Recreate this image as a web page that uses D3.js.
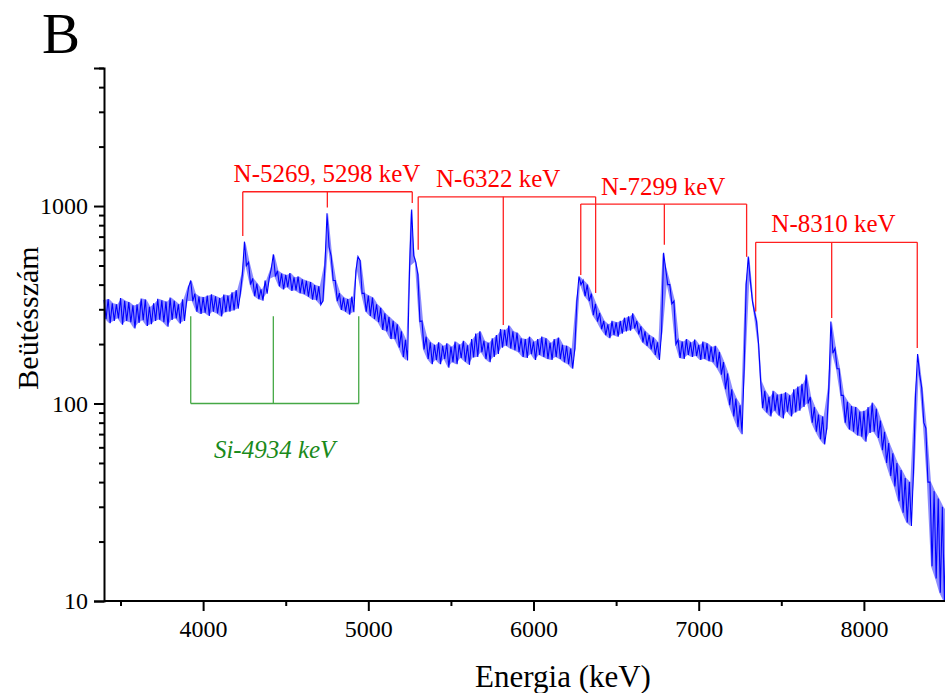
<!DOCTYPE html>
<html><head><meta charset="utf-8">
<script src="https://cdn.jsdelivr.net/npm/d3@7"></script>
<style>body{margin:0;background:#fff}svg{display:block}</style>
</head><body>
<svg id="chart" width="945" height="693"></svg>
<script>
// Spectrum: 25 keV bins starting at 3400 keV,
// two readings per bin (at bin start and bin middle) to keep the noise band.
const binStart = 3400;
const binWidth = 25;
const countsA = [
 335,338,322,318,342,331,326,314,318,340,
 336,309,322,339,333,328,344,331,318,337,
 330,420,360,348,346,352,357,349,342,356,
 352,366,375,360,660,520,430,405,378,420,
 430,570,470,455,448,458,436,440,426,418,
 412,398,392,330,920,560,420,362,344,338,
 348,470,530,362,352,344,318,305,286,274,
 262,252,232,210,500,560,450,262,218,204,
 198,204,196,202,194,206,199,208,197,212,
 226,232,208,203,214,222,238,236,248,232,
 228,214,212,218,206,212,218,214,203,212,
 216,198,196,190,190,440,420,400,360,320,
 288,262,252,262,258,262,272,276,286,262,
 246,232,222,216,204,230,480,400,330,210,
 206,212,204,211,198,206,202,194,196,182,
 162,142,118,106,98,150,555,330,260,130,
 116,108,116,111,112,114,110,118,122,126,
 140,108,96,88,86,75,260,190,150,110,
 102,97,96,91,92,96,101,94,82,72,
 63,56,50,46,42,40,45,178,120,75,
 40,36,33,30,28
];
const countsB = [
 268,255,262,270,251,262,258,240,256,264,
 247,252,262,266,258,245,265,270,254,262,
 390,330,292,284,288,278,292,286,276,290,
 292,296,302,450,500,400,350,338,332,360,
 480,440,392,378,388,372,374,362,358,348,
 336,334,316,500,620,420,330,298,292,282,
 290,555,360,292,278,268,258,236,232,212,
 212,192,172,165,960,520,260,188,168,158,
 166,158,168,152,162,158,170,163,157,171,
 172,182,168,162,172,178,192,196,190,186,
 182,172,170,178,166,176,172,168,166,172,
 168,162,158,150,330,400,350,330,280,260,
 238,222,214,222,218,226,232,234,240,224,
 204,196,188,176,166,580,400,320,200,170,
 168,176,172,174,166,168,164,162,152,140,
 118,98,86,76,70,400,420,290,200,95,
 90,86,92,87,84,91,86,90,92,96,
 100,80,72,66,62,120,180,150,110,80,
 74,72,69,68,64,71,72,67,58,50,
 43,38,32,28,25,24,110,140,80,40,
 15,13,11,10,10
];

// Annotation brackets: energies of the three legs, bar level and leg-end levels (counts)
const nitrogenLabels = ["N-5269, 5298 keV", "N-6322 keV", "N-7299 keV", "N-8310 keV"];
const nitrogenLegs = [[4240, 4752, 5266], [5302, 5817, 6376], [6286, 6792, 7290], [7345, 7805, 8323]];
const nitrogenBar = [1181, 1114, 1023, 655];
const nitrogenEnds = [[705, 984, 1035], [600, 250, 363], [448, 636, 553], [292, 271, 191]];
const nitrogenLabelAt = [[4750, 1323], [5786, 1255], [6785, 1136], [7816, 736]];

const siliconLabel = "Si-4934 keV";
const siliconLegs = [3925, 4425, 4942];
const siliconBar = 100;
const siliconEnds = [277, 277, 277];
const siliconLabelAt = [4433, 53];

const xMajorTicks = [4000, 5000, 6000, 7000, 8000];
const xMinorTicks = [3500, 4500, 5500, 6500, 7500];
const yMajorTicks = [10, 100, 1000];
const yMinorTicks = [20,30,40,50,60,70,80,90,200,300,400,500,600,700,800,900,2000,3000,4000,5000];

const svg = d3.select("#chart");
const FONT = "'Liberation Serif','Times New Roman',serif";
const x = d3.scaleLinear().domain([3400, 9000]).range([104, 1029.1]);
const y = d3.scaleLog().domain([10, 5000]).range([601, 68]);

// noise band: envelope between the two readings of each bin
const bins = countsA.map((a, i) => ({ e: binStart + i * binWidth + binWidth / 4, a, b: countsB[i] }));
svg.append("path")
  .attr("d", d3.area().x(d => x(d.e)).y0(d => y(Math.min(d.a, d.b))).y1(d => y(Math.max(d.a, d.b)))(bins))
  .attr("fill", "#0000ff").attr("fill-opacity", 0.45).attr("stroke", "none");

// data line
const pts = [];
countsA.forEach((a, i) => {
  const e = binStart + i * binWidth;
  pts.push([e, a]);
  pts.push([e + binWidth / 2, countsB[i]]);
});
svg.append("path")
  .attr("d", d3.line().x(d => x(d[0])).y(d => y(d[1]))(pts))
  .attr("fill", "none").attr("stroke", "#0000ff").attr("stroke-width", 1.1)
  .attr("stroke-linejoin", "miter");

// axes
const xAxis = svg.append("g").attr("transform", "translate(0,601)");
xAxis.call(d3.axisBottom(x).tickValues(xMajorTicks).tickSize(10).tickPadding(9).tickFormat(d3.format("d")));
const xMinor = svg.append("g").attr("transform", "translate(0,601)");
xMinor.call(d3.axisBottom(x).tickValues(xMinorTicks).tickSize(5).tickFormat(""));
const yAxis = svg.append("g").attr("transform", "translate(104,0)");
yAxis.call(d3.axisLeft(y).tickValues(yMajorTicks).tickSize(10).tickPadding(6).tickFormat(d3.format("d")));
const yMinor = svg.append("g").attr("transform", "translate(104,0)");
yMinor.call(d3.axisLeft(y).tickValues(yMinorTicks).tickSize(5).tickFormat(""));
xAxis.select(".domain").attr("d", "M104,0H945");
svg.selectAll("g").attr("font-family", FONT);
svg.selectAll(".domain").attr("stroke", "#000").attr("stroke-width", 2);
svg.selectAll(".tick line").attr("stroke", "#000").attr("stroke-width", 2);
svg.selectAll(".tick text").style("font-family", FONT).attr("font-size", 24).attr("fill", "#000");
xMinor.select(".domain").remove();
yMinor.select(".domain").remove();

// titles
svg.append("text").attr("x", 563).attr("y", 687).attr("text-anchor", "middle")
  .style("font-family", FONT).attr("font-size", 31).text("Energia (keV)");
svg.append("text").attr("transform", "translate(38,318) rotate(-90)").attr("text-anchor", "middle")
  .style("font-family", FONT).attr("font-size", 30).text("Beütésszám");
svg.append("text").attr("x", 42).attr("y", 53)
  .style("font-family", FONT).attr("font-size", 57).text("B");

// nitrogen brackets
const red = "#ff2020";
nitrogenLegs.forEach((legs, k) => {
  const g = svg.append("g").attr("stroke", red).attr("stroke-width", 1.3).attr("fill", "none");
  const yb = y(nitrogenBar[k]);
  g.append("line").attr("x1", x(legs[0])).attr("x2", x(legs[2])).attr("y1", yb).attr("y2", yb);
  legs.forEach((e, j) => {
    g.append("line").attr("x1", x(e)).attr("x2", x(e)).attr("y1", yb).attr("y2", y(nitrogenEnds[k][j]));
  });
  svg.append("text").attr("x", x(nitrogenLabelAt[k][0])).attr("y", y(nitrogenLabelAt[k][1]))
    .attr("text-anchor", "middle").style("font-family", FONT).attr("font-size", 25)
    .attr("fill", "#ff0000").text(nitrogenLabels[k]);
});

// silicon bracket
const gs = svg.append("g").attr("stroke", "#45a845").attr("stroke-width", 1.3);
gs.append("line").attr("x1", x(siliconLegs[0])).attr("x2", x(siliconLegs[2]))
  .attr("y1", y(siliconBar)).attr("y2", y(siliconBar));
siliconLegs.forEach((e, j) => {
  gs.append("line").attr("x1", x(e)).attr("x2", x(e)).attr("y1", y(siliconBar)).attr("y2", y(siliconEnds[j]));
});
svg.append("text").attr("x", x(siliconLabelAt[0])).attr("y", y(siliconLabelAt[1]))
  .attr("text-anchor", "middle").style("font-family", FONT).attr("font-size", 25)
  .attr("font-style", "italic").attr("fill", "#1a8a1a").text(siliconLabel);
</script>
</body></html>
